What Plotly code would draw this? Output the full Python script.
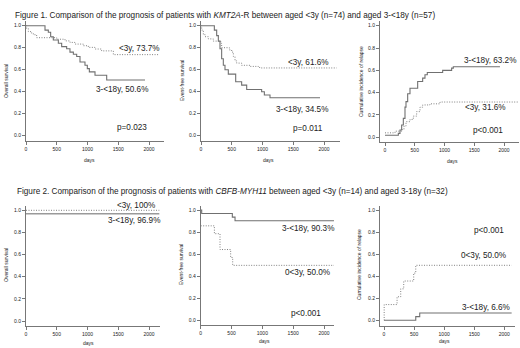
import plotly.graph_objects as go

# ---------------- DATA ----------------
tick_x = [0, 500, 1000, 1500, 2000]
tick_y = [0.0, 0.2, 0.4, 0.6, 0.8, 1.0]
tick_y_text = ["0.0", "0.2", "0.4", "0.6", "0.8", "1.0"]

# Figure 1 (KMT2A-R)
os1_old_days = [0, 309, 363, 401, 444, 526, 580, 661, 715, 770, 824, 878, 959, 997, 1030, 1122, 1312, 1935]
os1_old_vals = [1.0, 0.96, 0.94, 0.90, 0.87, 0.84, 0.81, 0.79, 0.76, 0.74, 0.72, 0.67, 0.64, 0.61, 0.58, 0.55, 0.506, 0.506]
os1_young_days = [0, 10, 38, 92, 119, 173, 499, 634, 715, 797, 932, 1013, 1122, 1230, 1420, 2168]
os1_young_vals = [1.0, 0.973, 0.946, 0.932, 0.918, 0.891, 0.877, 0.862, 0.848, 0.833, 0.818, 0.803, 0.788, 0.771, 0.737, 0.737]

efs1_old_days = [0, 217, 255, 282, 309, 336, 363, 390, 444, 564, 661, 743, 986, 1030, 1122, 1935]
efs1_old_vals = [1.0, 0.96, 0.91, 0.86, 0.79, 0.70, 0.64, 0.60, 0.56, 0.49, 0.46, 0.42, 0.40, 0.37, 0.345, 0.345]
efs1_young_days = [0, 11, 38, 65, 119, 200, 320, 336, 461, 499, 526, 553, 580, 661, 797, 932, 959, 2206]
efs1_young_vals = [1.0, 0.96, 0.92, 0.90, 0.88, 0.86, 0.84, 0.80, 0.78, 0.76, 0.72, 0.68, 0.66, 0.64, 0.63, 0.62, 0.616, 0.616]

cir1_old_days = [0, 224, 252, 280, 308, 336, 353, 381, 420, 549, 633, 672, 711, 969, 1120, 1148, 1932]
cir1_old_vals = [0.018, 0.035, 0.066, 0.11, 0.17, 0.27, 0.32, 0.39, 0.44, 0.50, 0.53, 0.56, 0.58, 0.60, 0.62, 0.632, 0.632]
cir1_young_days = [0, 168, 280, 319, 353, 420, 476, 532, 588, 633, 756, 924, 2230]
cir1_young_vals = [0.04, 0.055, 0.07, 0.10, 0.14, 0.16, 0.19, 0.23, 0.27, 0.29, 0.30, 0.316, 0.316]

# Figure 2 (CBFB-MYH11)
os2_old_days = [0, 2168]
os2_old_vals = [0.969, 0.969]
os2_young_days = [0, 2168]
os2_young_vals = [1.0, 1.0]

efs2_old_days = [0, 16, 513, 557, 2162]
efs2_old_vals = [1.0, 0.969, 0.936, 0.903, 0.903]
efs2_young_days = [0, 222, 313, 486, 519, 2162]
efs2_young_vals = [0.857, 0.786, 0.643, 0.571, 0.5, 0.5]

cir2_old_days = [0, 528, 594, 2122]
cir2_old_vals = [0.0, 0.033, 0.066, 0.066]
cir2_young_days = [0, 3, 217, 278, 328, 494, 528, 2122]
cir2_young_vals = [0.0, 0.143, 0.214, 0.286, 0.357, 0.429, 0.5, 0.5]

# ---------------- LAYOUT HELPERS ----------------
W, H = 520, 348
def px(x):
    return x / W
def py(y):
    return 1 - y / H

# panel geometry in pixels: left, right, x0px, x2000px, top, bottom, y0px, y1px
panels = [
    (26, 164, 26, 149, 21.3, 141, 135.7, 25.7),
    (201, 340, 201, 324, 21.3, 141, 135.7, 25.7),
    (380, 519, 385, 504, 21.0, 141.7, 137.3, 25.7),
    (26, 160, 26, 149, 206, 325.7, 321, 210.3),
    (200.7, 334, 200.7, 324, 205.6, 325, 320.7, 210),
    (380, 515, 384, 504.3, 206, 325.7, 320.3, 210.3),
]

series = [
    ((os1_old_days, os1_old_vals), (os1_young_days, os1_young_vals)),
    ((efs1_old_days, efs1_old_vals), (efs1_young_days, efs1_young_vals)),
    ((cir1_old_days, cir1_old_vals), (cir1_young_days, cir1_young_vals)),
    ((os2_old_days, os2_old_vals), (os2_young_days, os2_young_vals)),
    ((efs2_old_days, efs2_old_vals), (efs2_young_days, efs2_young_vals)),
    ((cir2_old_days, cir2_old_vals), (cir2_young_days, cir2_young_vals)),
]

FONT = "Liberation Sans, Arial, sans-serif"
TXT = "#222222"
AXC = "#777777"

fig = go.Figure()
layout = dict(
    width=W, height=H, margin=dict(l=0, r=0, t=0, b=0),
    paper_bgcolor="white", plot_bgcolor="white", showlegend=False,
    font=dict(family=FONT, color=TXT),
)

for i, (geo, ((od, ov), (yd, yv))) in enumerate(zip(panels, series)):
    left, right, x0p, x2p, top, bottom, y0p, y1p = geo
    sx = (x2p - x0p) / 2000.0
    xr = [(left - x0p) / sx, (right - x0p) / sx]
    sy = (y0p - y1p)
    yr = [-(bottom - y0p) / sy, 1 + (y1p - top) / sy]
    n = "" if i == 0 else str(i + 1)
    xa = "x" + n
    ya = "y" + n
    lw = 1.6 if i == 3 else 1.1
    oc = "#9a9a9a" if i == 3 else "#707070"
    fig.add_trace(go.Scatter(x=od, y=ov, mode="lines", line=dict(color=oc, width=lw, shape="hv"),
                             xaxis=xa, yaxis=ya, hoverinfo="skip"))
    fig.add_trace(go.Scatter(x=yd, y=yv, mode="lines",
                             line=dict(color="#808080", width=1.0, dash="1px,1.5px", shape="hv"),
                             xaxis=xa, yaxis=ya, hoverinfo="skip"))
    layout["xaxis" + n] = dict(
        domain=[px(left), px(right)], range=xr, anchor=ya,
        tickvals=tick_x, ticktext=[str(t) for t in tick_x],
        showline=True, linecolor=AXC, linewidth=1, ticks="outside", ticklen=3, tickcolor=AXC,
        tickfont=dict(size=5, color=TXT), showgrid=False, zeroline=False, fixedrange=True,
    )
    layout["yaxis" + n] = dict(
        domain=[py(bottom), py(top)], range=yr, anchor=xa,
        tickvals=tick_y, ticktext=tick_y_text,
        showline=True, linecolor=AXC, linewidth=1, ticks="outside", ticklen=3, tickcolor=AXC,
        tickfont=dict(size=5, color=TXT), showgrid=False, zeroline=False, fixedrange=True,
    )

fig.update_layout(**layout)

ann = []
def text(x, y, s, size=8.2, xanchor="left", angle=0):
    ann.append(dict(x=px(x), y=py(y), xref="paper", yref="paper", text=s, showarrow=False,
                    xanchor=xanchor, yanchor="middle", textangle=angle,
                    font=dict(size=size, family=FONT, color=TXT)))

# titles
text(13, 15, "Figure 1. Comparison of the prognosis of patients with <i>KMT2A</i>-R between aged &lt;3y (n=74) and aged 3-&lt;18y (n=57)", size=8.2)
text(15, 191, "Figure 2. Comparison of the prognosis of patients with <i>CBFB-MYH11</i> between aged &lt;3y (n=14) and aged 3-18y (n=32)", size=8.2)

# axis titles
for (x, y, s) in [(6, 81, "Overall survival"), (182, 81, "Event-free survival"), (361, 82, "Cumulative incidence of relapse"),
                  (6, 265, "Overall survival"), (181, 265, "Event-free survival"), (359, 265, "Cumulative incidence of relapse")]:
    text(x, y, s, size=5, xanchor="center", angle=-90)
for (x, y) in [(89, 160), (268, 160), (452, 161), (88, 343), (264, 341), (444, 341)]:
    text(x, y, "days", size=5, xanchor="center")

# panel labels
text(117, 48, "&lt;3y, 73.7%")
text(94, 89.5, "3-&lt;18y, 50.6%")
text(115, 127, "p=0.023")
text(286, 63, "&lt;3y, 61.6%")
text(274, 109.5, "3-&lt;18y, 34.5%")
text(291, 128, "p=0.011")
text(462, 60, "3-&lt;18y, 63.2%")
text(463, 108, "&lt;3y, 31.6%")
text(471, 130, "p&lt;0.001")
text(115, 205, "&lt;3y, 100%")
text(106, 220.5, "3-&lt;18y, 96.9%")
text(280, 228, "3-&lt;18y, 90.3%")
text(283, 272, "0&lt;3y, 50.0%")
text(289, 313, "p&lt;0.001")
text(472, 230, "p&lt;0.001")
text(459, 255, "0&lt;3y, 50.0%")
text(460, 307, "3-&lt;18y, 6.6%")

fig.update_layout(annotations=ann)
fig.write_html("out.html", config={"displayModeBar": False},
               post_script="document.body.style.margin='0';document.body.style.overflow='hidden';")
